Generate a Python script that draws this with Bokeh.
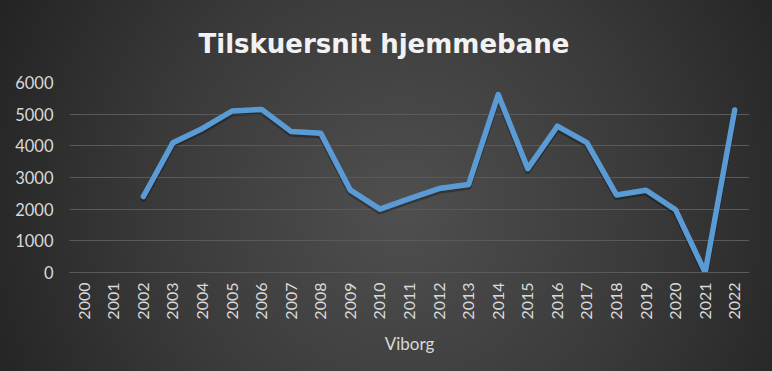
import math
from bokeh.plotting import figure
from bokeh.models import FactorRange, Range1d, FixedTicker, ColumnDataSource
from bokeh.transform import dodge
from bokeh.embed import file_html
from bokeh.resources import INLINE

NaN = float("nan")

title_text = "Tilskuersnit hjemmebane"
team = "Viborg"
years = ["2000", "2001", "2002", "2003", "2004", "2005", "2006", "2007",
         "2008", "2009", "2010", "2011", "2012", "2013", "2014", "2015",
         "2016", "2017", "2018", "2019", "2020", "2021", "2022"]
attendance = [NaN, NaN, 2400, 4100, 4550, 5100, 5150, 4450,
              4400, 2600, 2000, 2330, 2650, 2780, 5620, 3280,
              4620, 4100, 2450, 2600, 1980, 0, 5130]
y_ticks = [0, 1000, 2000, 3000, 4000, 5000, 6000]

factors = [(team, y) for y in years]
src = ColumnDataSource(dict(x=factors, y=attendance))

p = figure(width=772, height=371,
           x_range=FactorRange(*factors, range_padding=0),
           y_range=Range1d(0, 6000),
           output_backend="svg", toolbar_location=None,
           min_border_left=69, min_border_right=23,
           min_border_top=82, min_border_bottom=99,
           border_fill_color=None, background_fill_color=None,
           outline_line_color=None,
           styles={"background": "radial-gradient(440px 460px at 52% 56%, #4f4f4f 0%, #3a3a3a 55%, #242424 100%)"})

p.title.text = title_text
p.title.align = "left"
p.title.offset = 129
p.title.text_font = "DejaVu Sans"
p.title.text_font_style = "bold"
p.title.text_font_size = "26px"
p.title.text_color = "#f2f2f2"
p.title.standoff = 48

# shadow + line
p.line(x="x", y=dodge("y", -70, range=p.y_range), source=src,
       line_color="#000000", line_alpha=0.3, line_width=6,
       line_join="round", line_cap="round")
p.line(x="x", y="y", source=src, line_color="#5b9bd5", line_width=5.5,
       line_join="round", line_cap="round")

# axes
p.yaxis.ticker = FixedTicker(ticks=y_ticks)
p.yaxis.axis_line_color = None
p.yaxis.major_tick_line_color = None
p.yaxis.minor_tick_line_color = None
p.yaxis.major_tick_out = 0
p.yaxis.major_label_standoff = 16
p.yaxis.major_label_text_font = "Lato"
p.yaxis.major_label_text_font_size = "16.5px"
p.yaxis.major_label_text_color = "#d9d9d9"

p.xaxis.axis_line_color = "#5a5a5a"
p.xaxis.axis_line_width = 1
p.xaxis.major_tick_line_color = None
p.xaxis.minor_tick_line_color = None
p.xaxis.major_tick_out = 0
p.xaxis.major_tick_in = 0
p.xaxis.major_label_orientation = math.pi / 2
p.xaxis.major_label_standoff = 10
p.xaxis.major_label_text_font = "Lato"
p.xaxis.major_label_text_font_size = "16px"
p.xaxis.major_label_text_color = "#d9d9d9"
p.xaxis.group_text_font = "Lato"
p.xaxis.group_text_font_size = "17px"
p.xaxis.group_text_color = "#d9d9d9"
p.xaxis.group_text_font_style = "normal"
p.xaxis.separator_line_color = None

p.xgrid.grid_line_color = None
p.ygrid.grid_line_color = "#5a5a5a"
p.ygrid.grid_line_width = 1

open("out.html", "w").write(file_html(p, INLINE))
